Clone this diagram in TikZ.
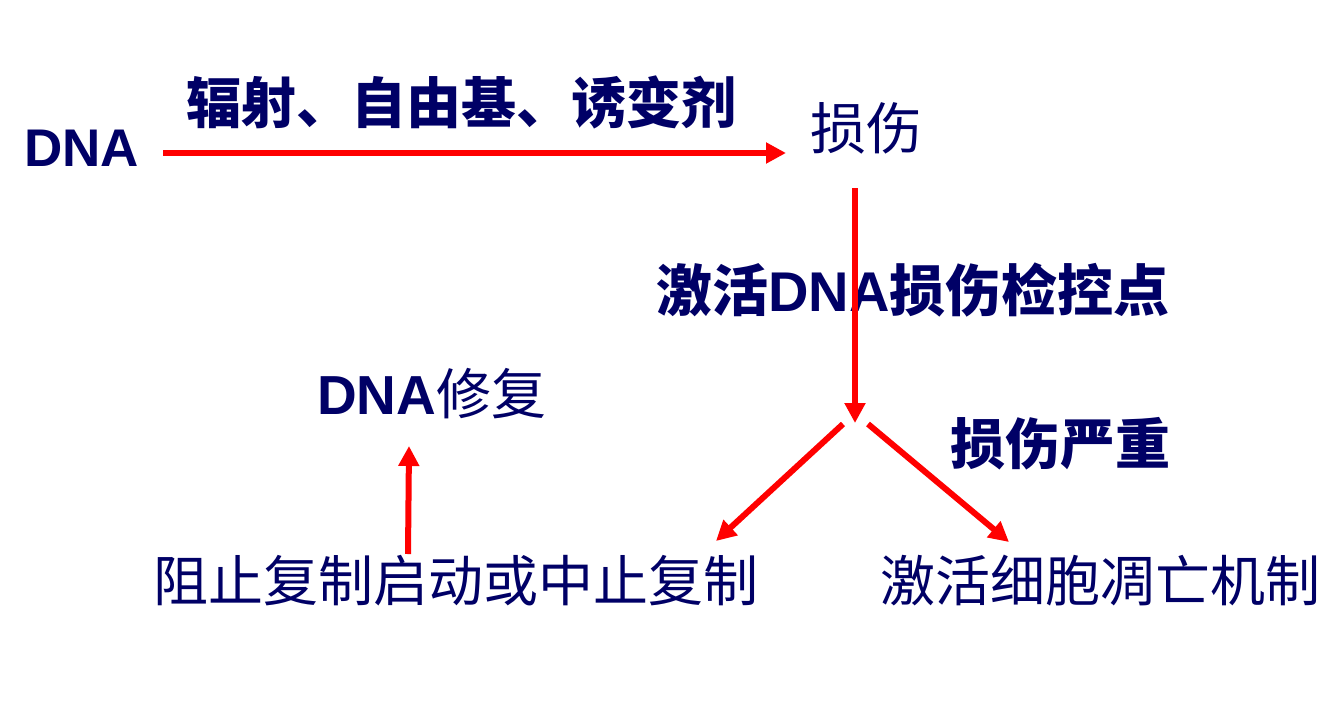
\documentclass[tikz,border=0pt]{standalone}
\usepackage{fontspec}
\setmainfont{Liberation Sans}
\newfontfamily\cjk{Noto Sans CJK SC}
\usetikzlibrary{arrows.meta}
\definecolor{navy}{RGB}{0,0,102}
\definecolor{ared}{RGB}{255,0,0}
\tikzset{
  lbl/.style={text=navy, inner sep=0pt, anchor=base west},
  bigb/.style={font=\fontsize{55}{60}\selectfont\bfseries},
  bigr/.style={font=\fontsize{55}{60}\selectfont},
  arr/.style={draw=ared, line width=6pt, -{Triangle[length=20pt,width=20pt]}},
}
\begin{document}
\begin{tikzpicture}[x=1pt,y=-1pt]
\useasboundingbox (0,0) rectangle (1339,704);
\node[lbl,bigb,font=\fontsize{53}{60}\selectfont\bfseries] (dna) at (24,166) {DNA};
\node[lbl,bigb] (cause) at (186,123) {\cjk 辐射、自由基、诱变剂};
\node[lbl,bigr,font=\fontsize{56}{60}\selectfont] (dmg) at (810,149) {\cjk 损伤};
\node[lbl,bigb,font=\fontsize{56}{60}\selectfont\bfseries] (chk) at (656,311) {\cjk 激活\normalfont\bfseries DNA\cjk 损伤检控点};
\node[lbl,bigb] (rep) at (317,414) {DNA\cjk\mdseries 修复};
\node[lbl,bigb] (sev) at (950,464) {\cjk 损伤严重};
\node[lbl,bigr] (stop) at (153,601) {\cjk 阻止复制启动或中止复制};
\node[lbl,bigr] (apo) at (880,601) {\cjk 激活细胞凋亡机制};
\coordinate (a1s) at (163,153);
\coordinate (a1e) at (786,153);
\coordinate (v1s) at (855,188);
\coordinate (fork) at (855,423);
\coordinate (l1s) at (843,424);
\coordinate (l1e) at (716,541);
\coordinate (r1s) at (868,424);
\coordinate (r1e) at (1009,542);
\coordinate (u1s) at (408,554);
\coordinate (u1e) at (409,446);
\draw[arr] (a1s) -- (a1e);
\draw[arr] (v1s) -- (fork);
\draw[arr] (l1s) -- (l1e);
\draw[arr] (r1s) -- (r1e);
\draw[arr] (u1s) -- (u1e);
\end{tikzpicture}
\end{document}
